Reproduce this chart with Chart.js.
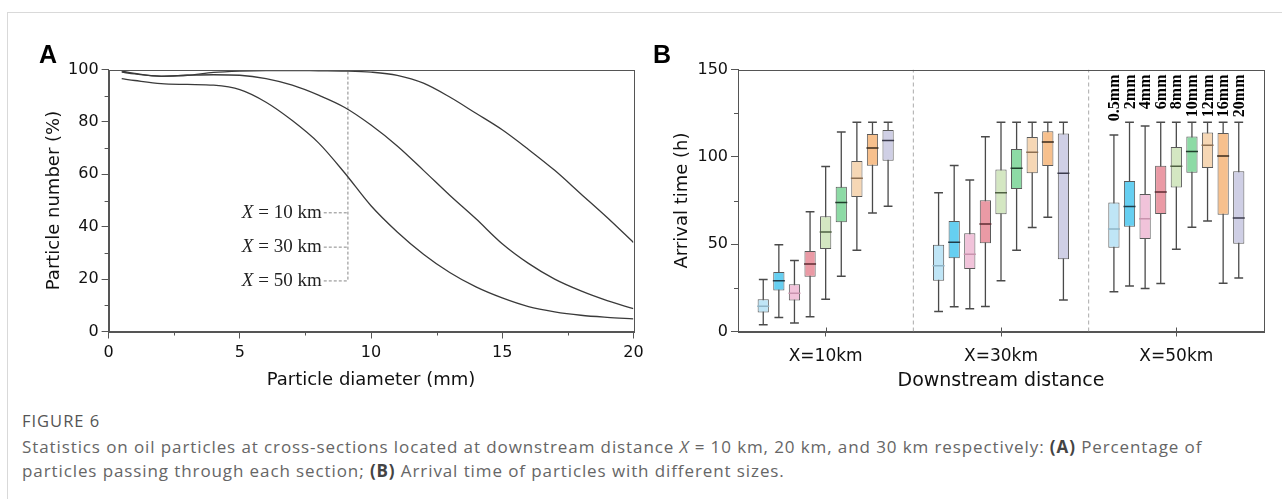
<!DOCTYPE html>
<html>
<head>
<meta charset="utf-8">
<script src="https://cdn.jsdelivr.net/npm/chart.js@4.4.1/dist/chart.umd.min.js"></script>
<style>
  html, body { margin: 0; padding: 0; background: #fff; }
  body { width: 1282px; height: 499px; position: relative; overflow: hidden; }
  .frame { position: absolute; left: 7px; top: 12px; right: 0; bottom: 0; border-left: 1px solid #d9d9d9; border-top: 1px solid #d9d9d9; }
  #chartA { position: absolute; left: 0; top: 20px; }
  #chartB { position: absolute; left: 640px; top: 20px; }
  .tag { position: absolute; font: bold 25px "Liberation Sans", Arial, sans-serif; color: #000; }
  .cap { position: absolute; left: 22px; font-family: "Open Sans", sans-serif; font-size: 17px; letter-spacing: 0.9px; color: #666; white-space: nowrap; }
  .cap.head { color: #555; font-size: 16.5px; letter-spacing: 1px; }
  .cap b { color: #444; }
</style>
</head>
<body>
<div class="frame"></div>
<canvas id="chartA" width="660" height="380"></canvas>
<canvas id="chartB" width="642" height="380"></canvas>
<div class="tag" style="left:39px;top:40px;">A</div>
<div class="tag" style="left:653px;top:40px;">B</div>
<div class="cap head" style="top:409px;">FIGURE 6</div>
<div class="cap" style="top:435px;">Statistics on oil particles at cross-sections located at downstream distance <i>X</i> = 10 km, 20 km, and 30 km respectively: <b>(A)</b> Percentage of</div>
<div class="cap" style="top:459px;">particles passing through each section; <b>(B)</b> Arrival time of particles with different sizes.</div>

<script>
// ---- panel A: share of particles passing each section ----
const diameters = [0.5, 1, 2, 3, 4, 5, 6, 7, 8, 9, 10, 11, 12, 13, 14, 15, 16, 17, 18, 19, 20];
const pass10km = [99.4, 98.5, 97.4, 97.8, 98.9, 99.4, 99.6, 99.6, 99.5, 99.4, 99.0, 97.8, 94.8, 89.5, 83.3, 77, 69.5, 61.5, 52.5, 43.5, 34];
const pass30km = [99.0, 98.3, 97.5, 97.8, 98.0, 97.8, 96.5, 94.0, 90.2, 85.5, 78.8, 70.8, 61.5, 52, 43, 33.5, 26, 20, 15.5, 11.8, 8.7];
const pass50km = [96.5, 95.8, 94.6, 94.3, 94.0, 92.3, 87.5, 80.5, 72, 60.5, 48, 38, 29.5, 22.5, 17, 12.8, 9.5, 7.5, 6.2, 5.4, 4.8];

// leader lines for the "X = .. km" notes
const siteKm = ['10', '30', '50'];
const siteY = [45.3, 32.2, 19.3];
const leaderStartX = 8.2;
const leaderX = 9.12;
const leaderTopY = 99.2;
const siteTextEndX = 8.12;

// ---- panel B: arrival time box plots ----
const groups = ['X=10km', 'X=30km', 'X=50km'];
const sizes = ['0.5mm', '2mm', '4mm', '6mm', '8mm', '10mm', '12mm', '16mm', '20mm'];
const lowWhisker = [
  [3.8, 8, 4.8, 8.4, 18.5, 31.6, 46.5, 67.9, 71.7],
  [11.4, 14.1, 13, 14.3, 29, 46.5, 59.5, 65.4, 18.1],
  [22.7, 26, 24.6, 27.5, 47.1, 59.7, 63.3, 27.6, 30.7]
];
const lowerQuartile = [
  [10.9, 23.5, 17.7, 31.3, 47.3, 62.5, 77, 94.9, 97.8],
  [29, 41.9, 35.8, 50.5, 67.1, 81.6, 90.6, 94.8, 41.4],
  [47.9, 59.9, 53, 67.3, 82.4, 90.9, 93.6, 66.9, 50.3]
];
const medians = [
  [14.5, 29, 21.9, 38.7, 57, 73.8, 87.7, 105, 109.4],
  [37.6, 51.1, 44.2, 61.6, 79.5, 93.4, 102.6, 108.5, 90.6],
  [58.7, 71.5, 64.6, 79.9, 94.6, 103, 106.6, 100.5, 65]
];
const upperQuartile = [
  [18.5, 34.1, 27.1, 46.1, 66, 82.9, 97.6, 113.1, 115.3],
  [49.6, 63.3, 56.2, 75.1, 92.7, 104.5, 111.3, 114.6, 113.3],
  [73.8, 86.2, 78.7, 94.9, 105.6, 111.7, 114, 113.6, 91.7]
];
const highWhisker = [
  [29.7, 49.6, 40.6, 68.6, 94.4, 114.2, 119.8, 119.8, 119.8],
  [79.5, 95.1, 86.7, 111.5, 119.8, 119.8, 119.8, 119.8, 119.8],
  [112.5, 119.8, 117.6, 119.8, 119.8, 119.8, 119.8, 119.8, 119.8]
];
const separators = [1, 2];

const boxFill = ['#bfe5f6', '#66cff1', '#f1c3da', '#ea9aa5', '#d4e7c2', '#8ddaa5', '#f6d7b5', '#f7c08d', '#cfcfe5'];
const medianLine = ['#8fb4c6', '#1f3c48', '#c893ad', '#5e2a32', '#4f6142', '#1f3e2b', '#8c6f52', '#3a2a1b', '#3b3b4c'];

const boxStep = 0.089; // spacing of boxes inside a group, in group units
const boxX = (g, i) => g + 0.5 + (i - (sizes.length - 1) / 2) * boxStep;

const sansFont = '"DejaVu Sans", sans-serif';
const axisColor = '#555';

// frame, minor ticks, inner ticks
const axisExtras = {
  id: 'axisExtras',
  afterDraw(chart, args, opts) {
    const { ctx, chartArea: a, scales: { x, y } } = chart;
    ctx.save();
    ctx.strokeStyle = axisColor;
    ctx.lineWidth = 1;
    ctx.strokeRect(Math.round(a.left) + 0.5, Math.round(a.top) + 0.5,
      Math.round(a.right - a.left), Math.round(a.bottom - a.top));
    ctx.beginPath();
    (opts.minorX || []).forEach(v => {
      const px = Math.round(x.getPixelForValue(v)) + 0.5;
      ctx.moveTo(px, a.bottom); ctx.lineTo(px, a.bottom + 4);
    });
    (opts.minorY || []).forEach(v => {
      const py = Math.round(y.getPixelForValue(v)) + 0.5;
      ctx.moveTo(a.left, py); ctx.lineTo(a.left - 4, py);
    });
    if (opts.innerX) {
      x.ticks.forEach(t => {
        const px = Math.round(x.getPixelForValue(t.value)) + 0.5;
        ctx.moveTo(px, a.bottom); ctx.lineTo(px, a.bottom - 4);
      });
    }
    ctx.stroke();
    ctx.restore();
  }
};

const siteText = {
  id: 'siteText',
  afterDatasetsDraw(chart) {
    const { ctx, scales: { x, y } } = chart;
    ctx.save();
    ctx.fillStyle = '#222';
    ctx.textBaseline = 'middle';
    ctx.textAlign = 'right';
    const xe = x.getPixelForValue(siteTextEndX);
    siteY.forEach((v, k) => {
      const yy = y.getPixelForValue(v);
      const rest = ' = ' + siteKm[k] + ' km';
      ctx.font = '19px "Liberation Serif", "Times New Roman", serif';
      ctx.fillText(rest, xe, yy);
      const w = ctx.measureText(rest).width;
      ctx.font = 'italic 19px "Liberation Serif", "Times New Roman", serif';
      ctx.fillText('X', xe - w, yy);
    });
    ctx.restore();
  }
};

const sizeText = {
  id: 'sizeText',
  afterDatasetsDraw(chart) {
    const { ctx, chartArea: a, scales: { x } } = chart;
    ctx.save();
    ctx.fillStyle = '#000';
    ctx.font = 'bold 16px "Liberation Serif", "Times New Roman", serif';
    ctx.textAlign = 'right';
    ctx.textBaseline = 'middle';
    sizes.forEach((s, i) => {
      ctx.save();
      ctx.translate(x.getPixelForValue(boxX(groups.length - 1, i)) + 1, a.top + 5);
      ctx.rotate(-Math.PI / 2);
      ctx.fillText(s, 0, 0);
      ctx.restore();
    });
    ctx.restore();
  }
};

const tickFont = { family: sansFont, size: 16 };
const titleFont = { family: sansFont, size: 18 };

// ---------- chart A ----------
const toPoints = vals => vals.map((v, k) => ({ x: diameters[k], y: v }));
const dashed = pts => ({
  data: pts, borderColor: '#888', borderWidth: 1, borderDash: [3, 2],
  pointRadius: 0, fill: false
});
const curve = vals => ({
  data: toPoints(vals), borderColor: '#3a3a3a', borderWidth: 1.3,
  pointRadius: 0, fill: false, cubicInterpolationMode: 'monotone'
});

new Chart(document.getElementById('chartA'), {
  type: 'line',
  data: {
    datasets: [
      curve(pass10km),
      curve(pass30km),
      curve(pass50km),
      dashed([{ x: leaderX, y: leaderTopY }, { x: leaderX, y: siteY[siteY.length - 1] }]),
      ...siteY.map(v => dashed([{ x: leaderStartX, y: v }, { x: leaderX, y: v }]))
    ]
  },
  options: {
    responsive: false,
    animation: false,
    events: [],
    layout: { padding: { left: 0, right: 26.6, top: 49.5, bottom: 0 } },
    plugins: {
      legend: { display: false },
      tooltip: { enabled: false },
      axisExtras: { minorX: [2.5, 7.5, 12.5, 17.5], minorY: [10, 30, 50, 70, 90] }
    },
    scales: {
      x: {
        type: 'linear', min: 0, max: 20,
        ticks: { stepSize: 5, font: tickFont, color: '#111', padding: 5, maxRotation: 0 },
        grid: { drawOnChartArea: false, tickLength: 7, color: axisColor },
        border: { color: axisColor },
        title: { display: true, text: 'Particle diameter (mm)', font: titleFont, color: '#111', padding: { top: 0, bottom: 9 } },
        afterFit: s => { s.height = 68.5; }
      },
      y: {
        min: 0, max: 100,
        ticks: { stepSize: 20, font: tickFont, color: '#111', padding: 3 },
        grid: { drawOnChartArea: false, tickLength: 7, color: axisColor },
        border: { color: axisColor },
        title: { display: true, text: 'Particle number (%)', font: titleFont, color: '#111', padding: { top: 44, bottom: 0 } },
        afterFit: s => { s.width = 108.6; }
      }
    }
  },
  plugins: [axisExtras, siteText]
});

// ---------- chart B ----------
const whiskerData = [], boxData = [], capData = [], medianData = [], boxColors = [], medianColors = [];
groups.forEach((name, g) => {
  sizes.forEach((s, i) => {
    const x = boxX(g, i);
    whiskerData.push({ x, y: [lowWhisker[g][i], highWhisker[g][i]] });
    boxData.push({ x, y: [lowerQuartile[g][i], upperQuartile[g][i]] });
    capData.push({ x, y: lowWhisker[g][i] }, { x, y: highWhisker[g][i] });
    medianData.push({ x, y: medians[g][i] });
    boxColors.push(boxFill[i]);
    medianColors.push(medianLine[i]);
  });
});

new Chart(document.getElementById('chartB'), {
  type: 'bar',
  data: {
    datasets: [
      ...separators.map(v => ({
        type: 'line', data: [{ x: v, y: 0 }, { x: v, y: 150 }],
        borderColor: '#aaa', borderWidth: 1, borderDash: [4, 3], pointRadius: 0, order: 6
      })),
      {
        data: whiskerData, backgroundColor: '#4a4a4a', grouped: false,
        maxBarThickness: 1.3, order: 5
      },
      {
        data: boxData, backgroundColor: boxColors, borderColor: '#5a5a5a', borderWidth: 1,
        borderSkipped: false, grouped: false, maxBarThickness: 12.7, order: 4
      },
      {
        type: 'line', data: capData, showLine: false, pointStyle: 'line',
        pointRadius: 4.4, pointBorderColor: '#4a4a4a', pointBorderWidth: 1.5, order: 3
      },
      {
        type: 'line', data: medianData, showLine: false, pointStyle: 'line',
        pointRadius: 6, pointBorderColor: medianColors, pointBorderWidth: 1.5, order: 2
      }
    ]
  },
  options: {
    responsive: false,
    animation: false,
    events: [],
    layout: { padding: { left: 0, right: 18, top: 49.5, bottom: 0 } },
    plugins: {
      legend: { display: false },
      tooltip: { enabled: false },
      axisExtras: { minorY: [25, 75, 125], innerX: true }
    },
    scales: {
      x: {
        type: 'linear', min: 0, max: groups.length, offset: false,
        afterBuildTicks: s => { s.ticks = groups.map((g, k) => ({ value: k + 0.5 })); },
        ticks: {
          callback: (v, k) => groups[k], autoSkip: false, maxRotation: 0,
          font: { family: sansFont, size: 17 }, color: '#111', padding: 10
        },
        grid: { drawOnChartArea: false, offset: false, tickLength: 5, color: axisColor },
        border: { color: axisColor },
        title: { display: true, text: 'Downstream distance', font: { family: sansFont, size: 19 }, color: '#111', padding: { top: 0, bottom: 7.6 } },
        afterFit: s => { s.height = 68.5; }
      },
      y: {
        min: 0, max: 150,
        ticks: { stepSize: 50, font: tickFont, color: '#111', padding: 3 },
        grid: { drawOnChartArea: false, tickLength: 7, color: axisColor },
        border: { color: axisColor },
        title: { display: true, text: 'Arrival time (h)', font: titleFont, color: '#111', padding: { top: 32, bottom: 0 } },
        afterFit: s => { s.width = 98; }
      }
    }
  },
  plugins: [axisExtras, sizeText]
});
</script>
</body>
</html>
